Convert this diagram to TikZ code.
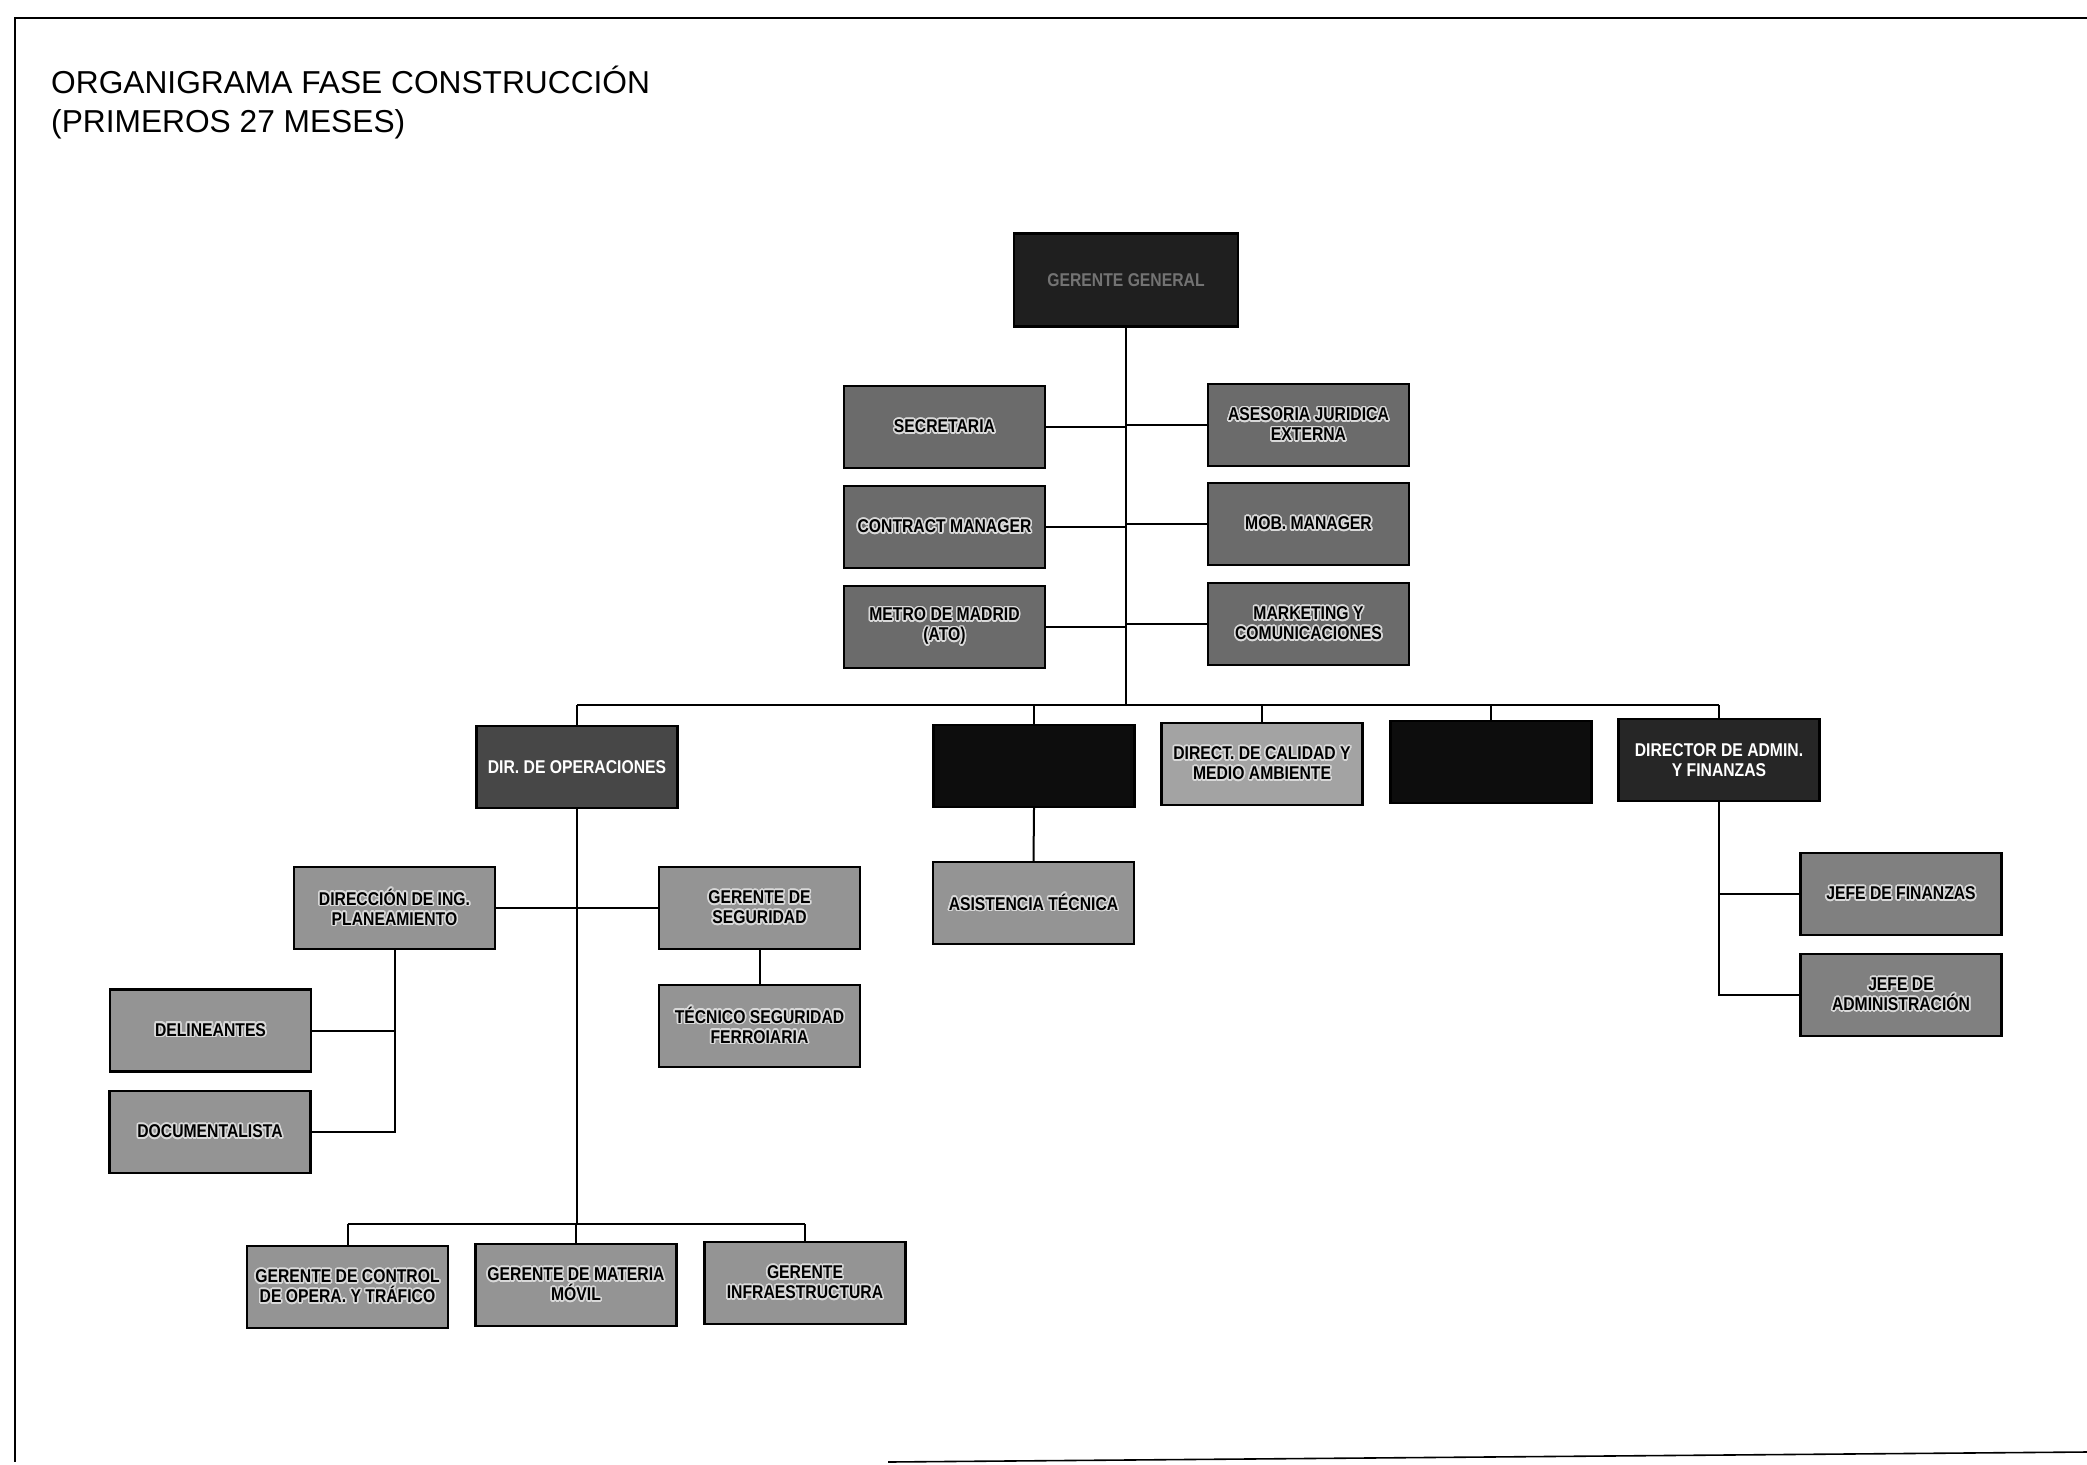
\documentclass[tikz,border=0pt]{standalone}
\usepackage{fontspec}
\setmainfont{Liberation Sans}
\newfontfamily\boxfont[FakeStretch=0.85]{Liberation Sans}
\usepackage[copies]{contour}
\contourlength{1.6pt}
\contournumber{16}
\definecolor{halo}{gray}{0.85}
\newcommand{\hal}[1]{\contour{halo}{#1}}

\begin{document}
\begin{tikzpicture}[x=1pt,y=-1pt,
  box/.style={draw=black, line width=2.4pt, rectangle, minimum width=201pt,
    minimum height=82pt, inner sep=0pt, align=center,
    font=\boxfont\bfseries\fontsize{18.5}{20}\selectfont},
  toptier/.style={box, fill=black!58},
  lowtier/.style={box, fill=black!42},
  lighttier/.style={box, fill=black!36},
  darkbox/.style={box, fill=black!90, text=white},
  blackbox/.style={box, fill=black!95},
  link/.style={draw=black, line width=2pt},
  frameline/.style={draw=black, line width=1.6pt},
  titlefont/.style={font=\fontsize{31.7}{38}\selectfont, inner sep=0pt}
]
\useasboundingbox (0,0) rectangle (2087,1464);
\fill[white] (0,0) rectangle (2087,1464);

% page frame
\draw[frameline] (2087,18) -- (15,18) -- (15,1462);
\draw[frameline] (888,1462) -- (2087,1452);

% title
\node[titlefont, anchor=base west] (t1) at (51,93) {ORGANIGRAMA FASE CONSTRUCCIÓN};
\node[titlefont, anchor=base west] (t2) at (51,132) {(PRIMEROS 27 MESES)};

% top of the hierarchy
\node[blackbox, fill=black!88, text=black!55, minimum width=224pt, minimum height=93pt] (gg) at (1126,280) {GERENTE GENERAL};

% staff units
\node[toptier] (sec) at (944.5,427) {\hal{SECRETARIA}};
\node[toptier] (con) at (944.5,527) {\hal{CONTRACT MANAGER}};
\node[toptier] (met) at (944.5,627) {\hal{METRO DE MADRID}\\\hal{(ATO)}};
\node[toptier] (ase) at (1308.5,425) {\hal{ASESORIA JURIDICA}\\\hal{EXTERNA}};
\node[toptier] (mob) at (1308.5,524) {\hal{MOB. MANAGER}};
\node[toptier] (mkt) at (1308.5,624) {\hal{MARKETING Y}\\\hal{COMUNICACIONES}};

% directors
\node[darkbox, fill=black!72] (ops) at (577,767) {DIR. DE OPERACIONES};
\node[blackbox] (dt) at (1034,766) {};
\node[lighttier] (cal) at (1262,764) {\hal{DIRECT. DE CALIDAD Y}\\\hal{MEDIO AMBIENTE}};
\node[blackbox] (dx) at (1491,762) {};
\node[darkbox, fill=black!85] (adm) at (1719,760) {DIRECTOR DE ADMIN.\\Y FINANZAS};

% operations
\node[lowtier] (ing) at (394.5,908) {\hal{DIRECCIÓN DE ING.}\\\hal{PLANEAMIENTO}};
\node[lowtier] (seg) at (759.5,908) {\hal{GERENTE DE}\\\hal{SEGURIDAD}};
\node[lowtier] (tec) at (759.5,1026) {\hal{TÉCNICO SEGURIDAD}\\\hal{FERROIARIA}};
\node[lowtier] (del) at (210.5,1030.5) {\hal{DELINEANTES}};
\node[lowtier] (doc) at (210,1132) {\hal{DOCUMENTALISTA}};
\node[lowtier] (ctl) at (347.5,1287) {\hal{GERENTE DE CONTROL}\\\hal{DE OPERA. Y TRÁFICO}};
\node[lowtier] (mm) at (576,1285) {\hal{GERENTE DE MATERIA}\\\hal{MÓVIL}};
\node[lowtier] (inf) at (805,1283) {\hal{GERENTE}\\\hal{INFRAESTRUCTURA}};

% technical assistance
\node[lowtier] (ast) at (1033.5,903) {\hal{ASISTENCIA TÉCNICA}};

% administration and finance
\node[lowtier, fill=black!50] (fin) at (1901,894) {\hal{JEFE DE FINANZAS}};
\node[lowtier, fill=black!50] (jad) at (1901,995) {\hal{JEFE DE}\\\hal{ADMINISTRACIÓN}};

% junction points
\coordinate (bus) at (1126,705);
\coordinate (opsbus) at (577,1224);

% connectors: general manager and staff
\draw[link] (gg.south) -- (bus);
\draw[link] (sec.east) -- (sec.east -| gg.south);
\draw[link] (con.east) -- (con.east -| gg.south);
\draw[link] (met.east) -- (met.east -| gg.south);
\draw[link] (ase.west) -- (ase.west -| gg.south);
\draw[link] (mob.west) -- (mob.west -| gg.south);
\draw[link] (mkt.west) -- (mkt.west -| gg.south);

% connectors: directors
\draw[link] (ops.north |- bus) -- (adm.north |- bus);
\draw[link] (ops.north) -- (ops.north |- bus);
\draw[link] (dt.north) -- (dt.north |- bus);
\draw[link] (cal.north) -- (cal.north |- bus);
\draw[link] (dx.north) -- (dx.north |- bus);
\draw[link] (adm.north) -- (adm.north |- bus);

% connectors: operations
\draw[link] (ops.south) -- (opsbus);
\draw[link] (ing.east) -- (seg.west);
\draw[link] (seg.south) -- (tec.north);
\draw[link] (ing.south) -- (ing.south |- doc.east) -- (doc.east);
\draw[link] (del.east) -- (del.east -| ing.south);
\draw[link] (ctl.north |- opsbus) -- (inf.north |- opsbus);
\draw[link] (ctl.north) -- (ctl.north |- opsbus);
\draw[link] (mm.north) -- (mm.north |- opsbus);
\draw[link] (inf.north) -- (inf.north |- opsbus);

% connectors: technical and admin branches
\draw[link] (dt.south) -- (ast.north);
\draw[link] (adm.south) -- (adm.south |- jad.west) -- (jad.west);
\draw[link] (fin.west) -- (fin.west -| adm.south);
\end{tikzpicture}
\end{document}
